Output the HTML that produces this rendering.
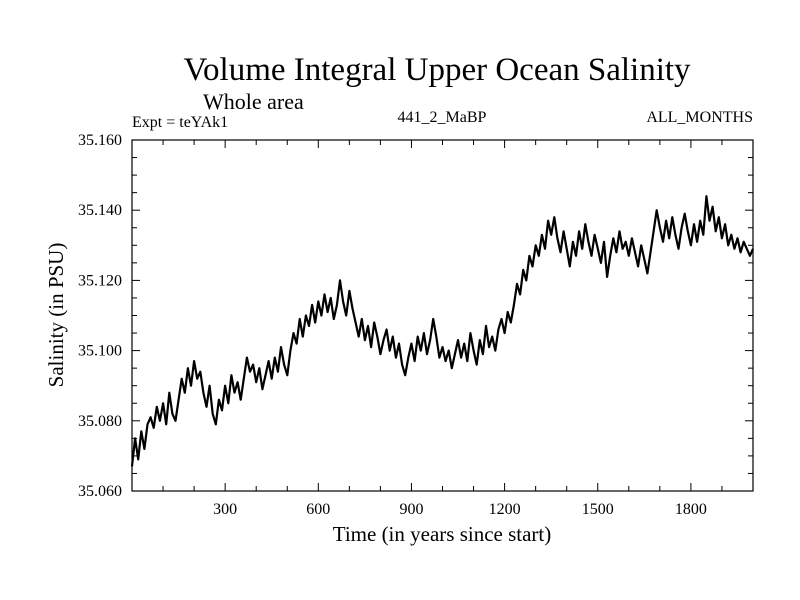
<!DOCTYPE html>
<html><head><meta charset="utf-8"><style>
body{margin:0;background:#fff}
svg{display:block;font-family:"Liberation Serif",serif}
</style></head><body>
<svg id="chart" width="800" height="600" viewBox="0 0 800 600">
<rect width="800" height="600" fill="#fff"/>
<text x="437" y="80" font-size="33" text-anchor="middle">Volume Integral Upper Ocean Salinity</text>
<text x="203" y="109" font-size="22">Whole area</text>
<text x="132" y="127" font-size="16">Expt = teYAk1</text>
<text x="442" y="122" font-size="16" text-anchor="middle">441_2_MaBP</text>
<text x="753" y="122" font-size="16" text-anchor="end">ALL_MONTHS</text>
<g id="axes"></g>
<path id="line" fill="none" stroke="#000" stroke-width="2.2" stroke-linejoin="round"/>
<rect x="132" y="140" width="621" height="351" fill="none" stroke="#000" stroke-width="1.2"/>
<text x="442" y="541" font-size="21" text-anchor="middle">Time (in years since start)</text>
<text transform="translate(63,315) rotate(-90)" font-size="21" text-anchor="middle">Salinity (in PSU)</text>
</svg>
<script>
const years=[];for(let i=0;i<=200;i++)years.push(i*10);
const salinity=[67,75,69,77,72,79,81,78,84,80,85,79,88,82,80,86,92,88,95,90,97,92,94,88,84,90,82,79,86,83,90,85,93,88,91,86,92,98,94,96,91,95,89,93,97,92,98,94,101,96,93,100,105,102,109,104,110,107,113,108,114,110,116,111,115,109,113,120,114,110,117,112,108,104,109,103,107,101,108,104,99,103,106,100,104,98,102,96,93,98,102,97,104,100,105,99,103,109,104,98,101,97,100,95,99,103,98,102,97,105,100,96,103,99,107,101,104,100,106,109,105,111,108,113,119,116,123,120,127,124,130,127,133,129,137,133,138,132,128,134,129,124,131,127,134,129,136,131,127,133,129,125,131,121,127,132,128,134,129,131,127,132,128,124,130,126,122,128,134,140,135,131,137,132,138,133,129,135,139,134,130,136,131,137,133,144,137,141,134,138,132,136,130,133,129,132,128,131,129,127,129];
const yTicks=[35.060,35.080,35.100,35.120,35.140,35.160];
const xTicks=[300,600,900,1200,1500,1800];
const X0=132,X1=753,Y0=491,Y1=140;
const xs=t=>X0+(t-0)/(2000-0)*(X1-X0);
const ys=v=>Y0-(v-35.060)/(0.100)*(Y0-Y1);
const NS="http://www.w3.org/2000/svg";
const axes=document.getElementById('axes');
function ln(x1,y1,x2,y2,name){const l=document.createElementNS(NS,'line');l.setAttribute('x1',x1);l.setAttribute('y1',y1);l.setAttribute('x2',x2);l.setAttribute('y2',y2);l.setAttribute('stroke','#000');l.setAttribute('stroke-width','1');


axes.appendChild(l);}
function tx(x,y,s,anchor,name){const t=document.createElementNS(NS,'text');t.setAttribute('x',x);t.setAttribute('y',y);t.setAttribute('font-size','16');t.setAttribute('text-anchor',anchor);t.textContent=s;


axes.appendChild(t);}
for(let t=100;t<2000;t+=100){const x=xs(t),big=t%300===0?8:5;ln(x,Y0,x,Y0-big,'x-tick');ln(x,Y1,x,Y1+big,'x-tick-top');}
for(let k=0;k<=20;k++){const v=35.060+k*0.005,y=ys(v),big=k%4===0?8:5;ln(X0,y,X0+big,y,'y-tick');ln(X1,y,X1-big,y,'y-tick-right');}
xTicks.forEach(t=>tx(xs(t),Y0+23,String(t),'middle','x-tick-label'));
yTicks.forEach(v=>tx(X0-10,ys(v)+5,v.toFixed(3),'end','y-tick-label'));
document.getElementById('line').setAttribute('d',salinity.map((v,i)=>(i?'L':'M')+xs(years[i]).toFixed(1)+','+ys(35+v/1000).toFixed(1)).join(''));
</script>
</body></html>
